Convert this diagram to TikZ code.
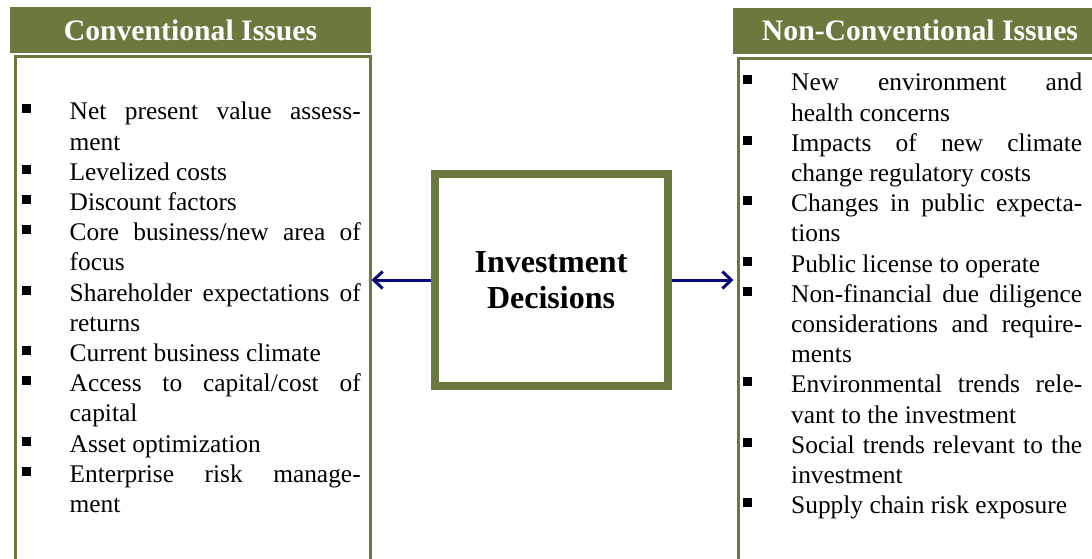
\documentclass[tikz,border=0pt]{standalone}
\usepackage{fontspec}
\setmainfont{Liberation Serif}
\usepackage{tikz}
\usetikzlibrary{arrows.meta, positioning}
\usepackage{xcolor}
\definecolor{olivegreen}{RGB}{106,121,61}
\definecolor{arrownavy}{RGB}{10,10,120}
\tikzset{issuehead/.style={rectangle, fill=olivegreen, text=white, inner sep=0pt, minimum height=46pt, font=\fontsize{29.7pt}{34pt}\selectfont\bfseries},
issuebox/.style={rectangle, draw=olivegreen, line width=3pt, fill=white, inner sep=0pt, anchor=north west},
issuelist/.style={inner sep=0pt, anchor=north west, text width=339pt, align=justify, font=\fontsize{25.4pt}{30.2pt}\selectfont},
decisionbox/.style={rectangle, draw=olivegreen, line width=8pt, minimum width=233pt, minimum height=212pt, align=center, font=\fontsize{32pt}{36pt}\selectfont\bfseries},
decisionarrow/.style={arrownavy, line width=3pt, -{Straight Barb[length=9pt, width=17pt]}}}
\newenvironment{bulletlist}{\begin{list}{\rule[6.5pt]{9pt}{9pt}\hfill}{\setlength\leftmargin{48pt}\setlength\labelwidth{48pt}\setlength\labelsep{0pt}\setlength\itemsep{0pt}\setlength\parsep{0pt}\setlength\topsep{0pt}\setlength\partopsep{0pt}\tolerance=10000\hbadness=10000}}{\end{list}}

\begin{document}
\begin{tikzpicture}
                \useasboundingbox (0pt, 0pt) rectangle (1092pt, -558pt);

                % Boxes
                \node[issuebox, minimum width=355pt, minimum height=530pt] (convbox) at (13.5pt, -54.5pt) {};
                \node[issuebox, minimum width=380pt, minimum height=530pt] (nonconvbox) at (736.5pt, -56.5pt) {};
                \node[issuehead, minimum width=361pt] (convhead) at (190.5pt, -30pt) {Conventional Issues};
                \node[issuehead, minimum width=374pt] (nonconvhead) at (920pt, -30.5pt) {Non-Conventional Issues};

                % Lists
                \node[issuelist] (convlist) at (21.5pt, -89.4pt) {\begin{bulletlist}
\item Net present value assess-\linebreak ment
\item Levelized costs
\item Discount factors
\item Core business/new area of\linebreak focus
\item Shareholder expectations of\linebreak returns
\item Current business climate
\item Access to capital/cost of\linebreak capital
\item Asset optimization
\item Enterprise risk manage-\linebreak ment
\end{bulletlist}};
                \node[issuelist] (nonconvlist) at (743pt, -60.4pt) {\begin{bulletlist}
\item New environment and\linebreak health concerns
\item Impacts of new climate\linebreak change regulatory costs
\item Changes in public expecta-\linebreak tions
\item Public license to operate
\item Non-financial due diligence\linebreak considerations and require-\linebreak ments
\item Environmental trends rele-\linebreak vant to the investment
\item Social trends relevant to the\linebreak investment
\item Supply chain risk exposure
\end{bulletlist}};

                % Centre
                \node[decisionbox] (dec) at (551pt, -280pt) {Investment\\Decisions};
                \draw[decisionarrow] (dec.west) -- (dec.west -| convbox.east);
                \draw[decisionarrow, shorten >=3pt] (dec.east) -- (dec.east -| nonconvbox.west);
            \end{tikzpicture}
\end{document}
